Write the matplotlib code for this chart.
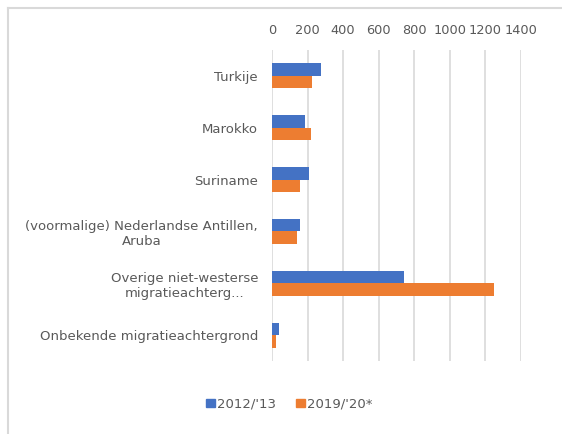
import matplotlib
matplotlib.use("Agg")
import matplotlib.pyplot as plt
import numpy as np
from matplotlib.patches import Patch
from matplotlib.lines import Line2D

# data
categories = [
    "Turkije",
    "Marokko",
    "Suriname",
    "(voormalige) Nederlandse Antillen,\nAruba",
    "Overige niet-westerse\nmigratieachterg...",
    "Onbekende migratieachtergrond",
]
values_2012 = [276, 186, 208, 158, 742, 39]
values_2019 = [227, 220, 158, 143, 1252, 21]
series_labels = ["2012/'13", "2019/'20*"]
xticks = [0, 200, 400, 600, 800, 1000, 1200, 1400]

BLUE = "#4472C4"
ORANGE = "#ED7D31"
TEXT = "#595959"
GRID = "#D9D9D9"

plt.rcParams["font.family"] = ["DejaVu Sans"]

fig = plt.figure(figsize=(5.62, 4.34), dpi=100)
ax = fig.add_axes([0.484, 0.168, 0.4425, 0.717])

y = np.arange(len(categories))
h = 0.24
ax.barh(y - h / 2, values_2012, height=h, color=BLUE, label=series_labels[0], zorder=3)
ax.barh(y + h / 2, values_2019, height=h, color=ORANGE, label=series_labels[1], zorder=3)

ax.set_ylim(len(categories) - 0.5, -0.5)
ax.set_xlim(0, 1400)
ax.set_xticks(xticks)
ax.xaxis.tick_top()
ax.tick_params(axis="x", length=0, pad=9, labelsize=9.3, labelcolor=TEXT)
ax.set_yticks(y)
ax.set_yticklabels(categories, multialignment="center")
ax.tick_params(axis="y", length=0, pad=10, labelsize=9.5, labelcolor=TEXT)

ax.grid(axis="x", color=GRID, linewidth=1.2, zorder=0)
for s in ax.spines.values():
    s.set_visible(False)

handles = [Patch(color=BLUE), Patch(color=ORANGE)]
fig.legend(handles, series_labels, loc="center", bbox_to_anchor=(0.515, 0.069),
           ncol=2, frameon=False, fontsize=9.5, labelcolor=TEXT,
           handlelength=0.65, handleheight=0.65, handletextpad=0.2, columnspacing=1.5)

# outer chart border: only left and top edges are visible in the crop
bx = 7.5 / 562
by = 1 - 7.5 / 434
fig.add_artist(Line2D([bx, 1.0], [by, by], transform=fig.transFigure, color=GRID, linewidth=1.5))
fig.add_artist(Line2D([bx, bx], [0.0, by], transform=fig.transFigure, color=GRID, linewidth=1.5))

fig.savefig("out.png", dpi=100)
